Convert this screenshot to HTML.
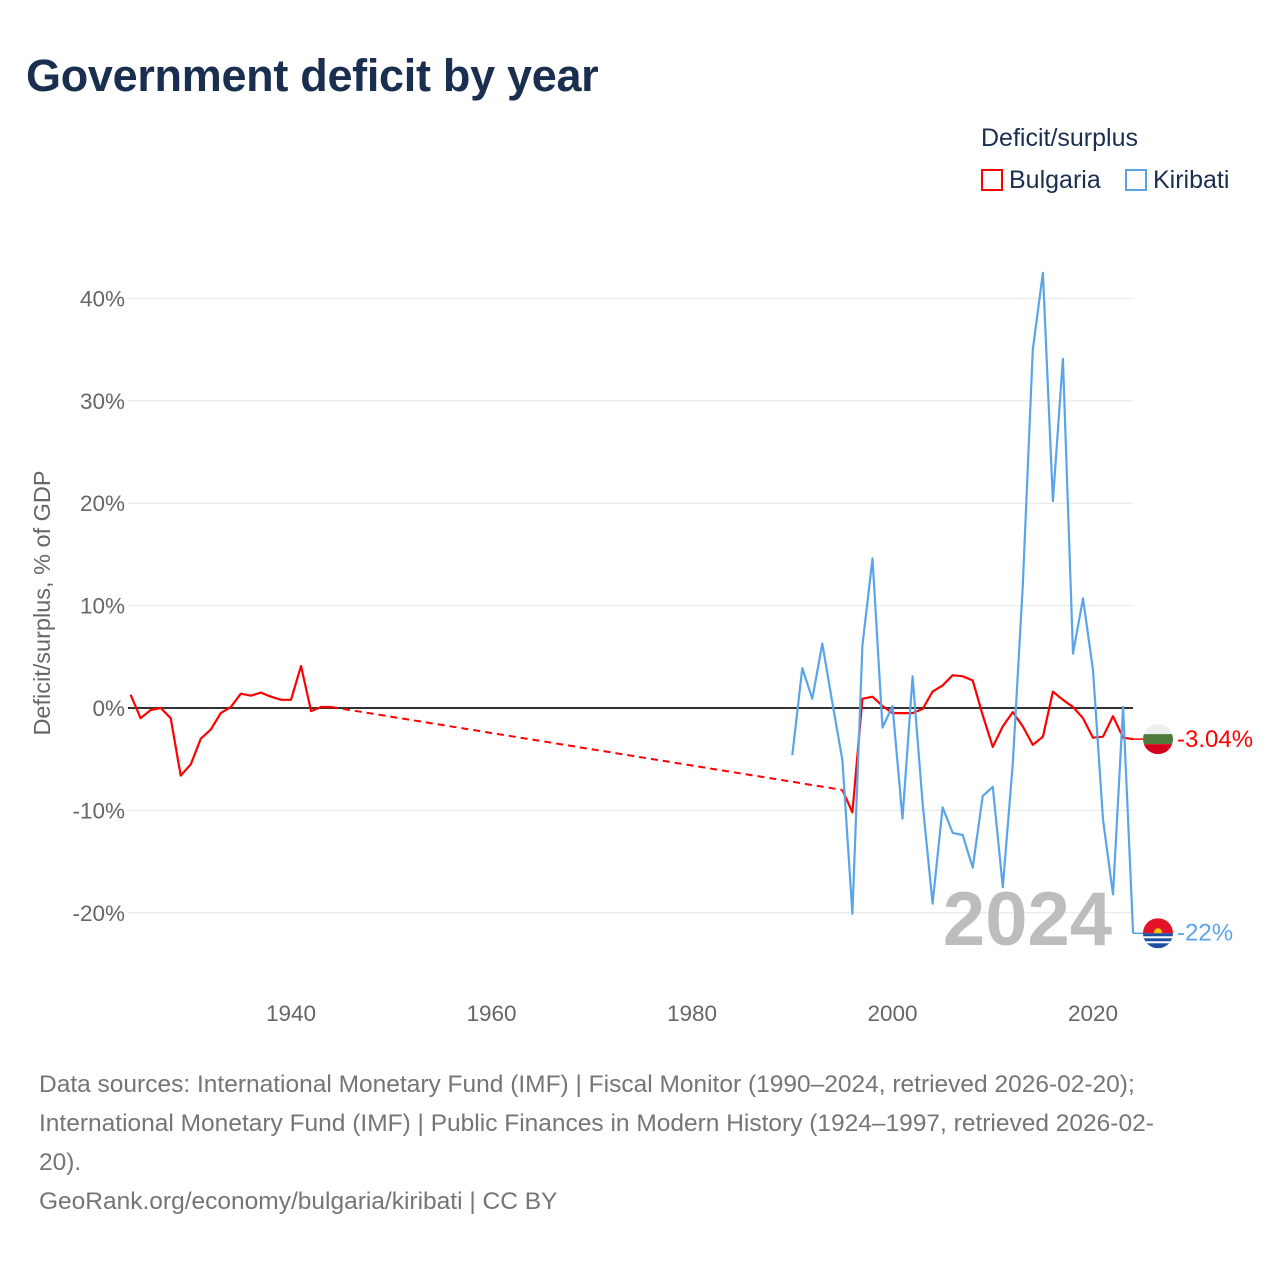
<!DOCTYPE html>
<html><head><meta charset="utf-8"><style>
body{margin:0;background:#fff;font-family:"Liberation Sans",sans-serif;}
#wrap{position:relative;width:1280px;height:1280px;overflow:hidden;}
.t{position:absolute;white-space:nowrap;}
</style></head><body>
<div id="wrap">
<div class="t" style="left:26px;top:50px;font-size:45px;font-weight:bold;color:#1a2e4f;letter-spacing:-0.3px">Government deficit by year</div>
<div class="t" style="left:981px;top:124px;font-size:25px;color:#1a2e4f">Deficit/surplus</div>
<div class="t" style="left:981px;top:166px;font-size:25px;color:#1a2e4f"><span style="display:inline-block;width:22px;height:22px;border:2px solid #ff0000;box-sizing:border-box;vertical-align:-3px;margin-right:6px"></span>Bulgaria</div>
<div class="t" style="left:1125px;top:166px;font-size:25px;color:#1a2e4f"><span style="display:inline-block;width:22px;height:22px;border:2px solid #5aa5ea;box-sizing:border-box;vertical-align:-3px;margin-right:6px"></span>Kiribati</div>
<svg id="chart" width="1280" height="1280" style="position:absolute;left:0;top:0"></svg>
<div class="t" style="left:39px;top:1065px;font-size:24.5px;line-height:39px;color:#757575">Data sources: International Monetary Fund (IMF) | Fiscal Monitor (1990–2024, retrieved 2026-02-20);<br>International Monetary Fund (IMF) | Public Finances in Modern History (1924–1997, retrieved 2026-02-<br>20).<br>GeoRank.org/economy/bulgaria/kiribati | CC BY</div>
</div>
<script>
const bgYears=[1924,1925,1926,1927,1928,1929,1930,1931,1932,1933,1934,1935,1936,1937,1938,1939,1940,1941,1942,1943,1944,1995,1996,1997,1998,1999,2000,2001,2002,2003,2004,2005,2006,2007,2008,2009,2010,2011,2012,2013,2014,2015,2016,2017,2018,2019,2020,2021,2022,2023,2024];
const bgValues=[1.3,-1.0,-0.2,0,-1.0,-6.6,-5.5,-3.0,-2.1,-0.5,0.1,1.4,1.2,1.5,1.1,0.8,0.8,4.1,-0.3,0.1,0.1,-8.0,-10.2,0.9,1.1,0.2,-0.5,-0.5,-0.5,-0.1,1.6,2.2,3.2,3.1,2.7,-0.7,-3.8,-1.8,-0.4,-1.8,-3.6,-2.8,1.6,0.8,0.1,-1.0,-2.9,-2.8,-0.8,-2.9,-3.04];
const kiYears=[1990,1991,1992,1993,1994,1995,1996,1997,1998,1999,2000,2001,2002,2003,2004,2005,2006,2007,2008,2009,2010,2011,2012,2013,2014,2015,2016,2017,2018,2019,2020,2021,2022,2023,2024];
const kiValues=[-4.6,3.9,0.9,6.3,0.5,-5.1,-20.1,6.1,14.6,-1.9,0.2,-10.8,3.1,-9.3,-19.1,-9.7,-12.2,-12.4,-15.6,-8.6,-7.7,-17.5,-5.4,12,35,42.5,20.2,34.1,5.3,10.7,3.7,-10.9,-18.2,0.1,-22];
const yTicks=[-20,-10,0,10,20,30,40];
const xTicks=[1940,1960,1980,2000,2020];
const X=y=>130.6+(y-1924)*10.025;
const Y=v=>708-v*10.24;
const svg=document.getElementById('chart');
const NS='http://www.w3.org/2000/svg';
function mk(t,a){const e=document.createElementNS(NS,t);for(const k in a)e.setAttribute(k,a[k]);svg.appendChild(e);return e;}
yTicks.forEach(v=>{
  if(v!==0){const g=mk('line',{x1:128,x2:1133,y1:Y(v),y2:Y(v),stroke:'#e6e6e6','stroke-width':1});
  
  }
  const t=mk('text',{x:125,y:Y(v)+8,'text-anchor':'end','font-size':22.5,fill:'#666','font-family':'Liberation Sans, sans-serif'});
  t.textContent=v+'%';
  
  
});
xTicks.forEach(v=>{
  const t=mk('text',{x:X(v),y:1021,'text-anchor':'middle','font-size':22.5,fill:'#666','font-family':'Liberation Sans, sans-serif'});
  t.textContent=v;
  
  
});
const yt=mk('text',{transform:'translate(50,603) rotate(-90)','text-anchor':'middle','font-size':23.5,fill:'#666','font-family':'Liberation Sans, sans-serif'});
yt.textContent='Deficit/surplus, % of GDP';


const wm=mk('text',{x:1112,y:945,'text-anchor':'end','font-size':76,'font-weight':'bold',fill:'#bdbdbd','font-family':'Liberation Sans, sans-serif'});
wm.textContent='2024';


const z=mk('line',{x1:128,x2:1133,y1:Y(0),y2:Y(0),stroke:'#333','stroke-width':2});


function series(years,vals,color,name){
  let segs=[[]];
  for(let i=0;i<years.length;i++){
    if(i>0&&years[i]-years[i-1]>1){
      const d=mk('line',{x1:X(years[i-1]),y1:Y(vals[i-1]),x2:X(years[i]),y2:Y(vals[i]),stroke:color,'stroke-width':2,'stroke-dasharray':'7,5'});
      
      
      segs.push([]);
    }
    segs[segs.length-1].push(X(years[i]).toFixed(1)+','+Y(vals[i]).toFixed(1));
  }
  segs.forEach(s=>{const p=mk('polyline',{points:s.join(' '),fill:'none',stroke:color,'stroke-width':2.2,'stroke-linejoin':'round'});
  
  });
  const lv=vals[vals.length-1], ly=Y(lv);
  const c=mk('line',{x1:X(years[years.length-1]),x2:1145,y1:ly,y2:ly,stroke:color,'stroke-width':1.5});
  
  
  return ly;
}
const by=series(bgYears,bgValues,'#ff0000','bulgaria');
const ky=series(kiYears,kiValues,'#5aa5ea','kiribati');
mk('defs',{}).innerHTML='<clipPath id="cb"><circle cx="1158" cy="'+by+'" r="15"/></clipPath><clipPath id="ck"><circle cx="1158" cy="'+ky+'" r="15"/></clipPath>';
const fb=mk('g',{'clip-path':'url(#cb)'});


fb.innerHTML='<rect x="1143" y="'+(by-15)+'" width="30" height="10" fill="#eee"/><rect x="1143" y="'+(by-5)+'" width="30" height="10" fill="#4e7a3a"/><rect x="1143" y="'+(by+5)+'" width="30" height="10" fill="#d6001c"/>';
const fk=mk('g',{'clip-path':'url(#ck)'});


fk.innerHTML='<rect x="1143" y="'+(ky-15)+'" width="30" height="15" fill="#e3142a"/><circle cx="1158" cy="'+(ky-1)+'" r="4" fill="#f7c600"/><rect x="1143" y="'+ky+'" width="30" height="15" fill="#1d4fa3"/><rect x="1143" y="'+(ky+3)+'" width="30" height="2" fill="#fff"/><rect x="1143" y="'+(ky+8)+'" width="30" height="2" fill="#fff"/>';
const lb=mk('text',{x:1177,y:by+8,'font-size':24,fill:'#ff0000','font-family':'Liberation Sans, sans-serif'});
lb.textContent='-3.04%';


const lk=mk('text',{x:1177,y:ky+7,'font-size':24,fill:'#5aa5ea','font-family':'Liberation Sans, sans-serif'});
lk.textContent='-22%';


</script>
</body></html>
